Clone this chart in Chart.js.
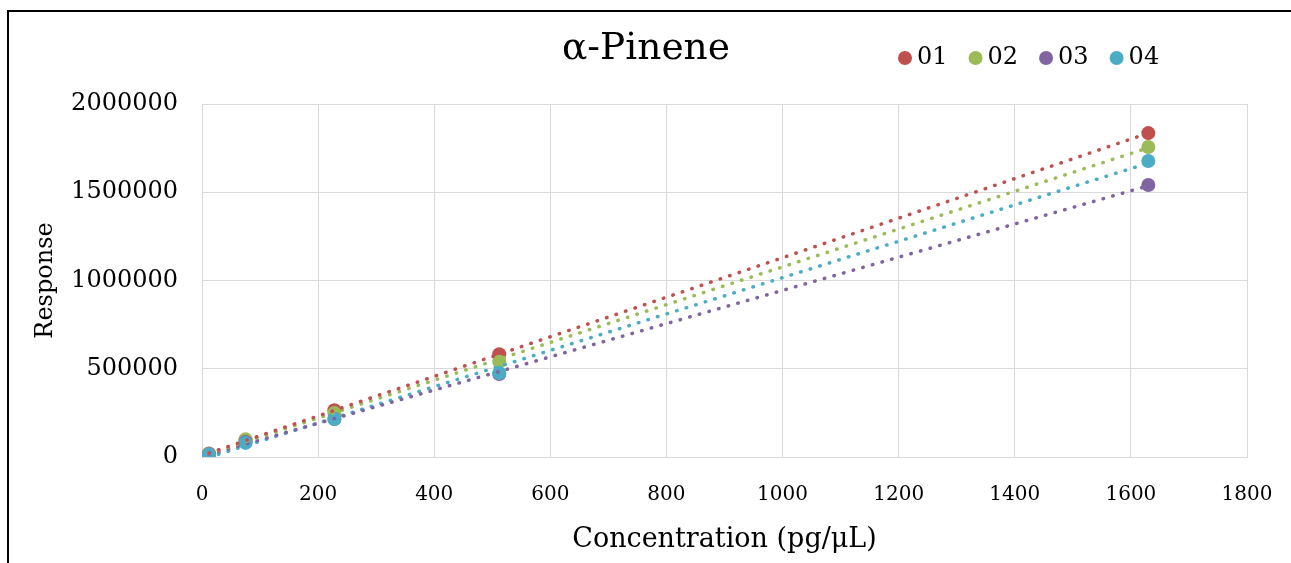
<!DOCTYPE html>
<html>
<head>
<meta charset="utf-8">
<script src="https://cdn.jsdelivr.net/npm/chart.js@4"></script>
<style>
    html, body { margin: 0; padding: 0; background: #fff; overflow: hidden; }
    #frame {
        position: absolute;
        left: 7px;
        top: 10px;
        width: 1284px;
        height: 553px;
        border-left: 2px solid #000;
        border-top: 2px solid #000;
    }
    #chart { display: block; }
</style>
</head>
<body>
<div id="frame">
    <canvas id="chart" width="1282" height="551"></canvas>
</div>
<script>
;(function (document, window) {
    'use strict';

    // concentrations (pg/uL) and responses per run
    var concentrations = [12, 75, 228, 512, 1630];
    var series01 = [20000, 95000, 265000, 582000, 1835000];
    var series02 = [18000, 100000, 250000, 540000, 1756000];
    var series03 = [15000, 85000, 215000, 470000, 1541000];
    var series04 = [14000, 80000, 215000, 476000, 1677000];

    var seriesNames = ['01', '02', '03', '04'];
    var seriesColors = ['#C0504D', '#9BBB59', '#8064A2', '#4BACC6'];

    var xTicks = [0, 200, 400, 600, 800, 1000, 1200, 1400, 1600, 1800];
    var yTicks = [0, 500000, 1000000, 1500000, 2000000];

    var chartTitle = 'α-Pinene';
    var xTitle = 'Concentration (pg/μL)';
    var yTitle = 'Response';

    var serif = "'DejaVu Serif', serif";

    /**
     * Least squares fit, returned as the two end points of the line.
     */
    function trend(xs, ys) {
        var n = xs.length, sx = 0, sy = 0, sxx = 0, sxy = 0;
        for (var i = 0; i < n; i++) {
            sx += xs[i];
            sy += ys[i];
            sxx += xs[i] * xs[i];
            sxy += xs[i] * ys[i];
        }
        var slope = (n * sxy - sx * sy) / (n * sxx - sx * sx);
        var icept = (sy - slope * sx) / n;
        var x0 = Math.min.apply(null, xs), x1 = Math.max.apply(null, xs);

        return [{x: x0, y: icept + slope * x0}, {x: x1, y: icept + slope * x1}];
    }

    var allSeries = [series01, series02, series03, series04];
    var datasets = [];

    allSeries.forEach(function (values, k) {
        datasets.push({
            label: seriesNames[k],
            type: 'scatter',
            data: concentrations.map(function (c, i) { return {x: c, y: values[i]}; }),
            backgroundColor: seriesColors[k],
            borderColor: seriesColors[k],
            pointRadius: 7,
            pointHoverRadius: 7,
            borderWidth: 0,
            order: 10 - k
        });
    });

    allSeries.forEach(function (values, k) {
        datasets.push({
            label: 'trend ' + seriesNames[k],
            type: 'line',
            data: trend(concentrations, values),
            borderColor: seriesColors[k],
            borderWidth: 3.5,
            borderDash: [0.5, 9.5],
            borderCapStyle: 'round',
            pointRadius: 0,
            fill: false,
            order: 0,
            isTrend: true
        });
    });

    // title and legend share one row above the plot
    var headerPlugin = {
        id: 'header',
        afterDraw: function (chart) {
            var ctx = chart.ctx;
            ctx.save();
            ctx.fillStyle = '#000';
            ctx.textBaseline = 'middle';
            ctx.textAlign = 'center';
            ctx.font = '37.5px ' + serif;
            ctx.fillText(chartTitle, 637, 37);

            ctx.font = '24px ' + serif;
            ctx.textAlign = 'left';
            var x = 889;
            chart.data.datasets.forEach(function (ds) {
                if (ds.isTrend) {
                    return;
                }
                ctx.fillStyle = ds.backgroundColor;
                ctx.beginPath();
                ctx.arc(x + 7, 46, 7, 0, Math.PI * 2);
                ctx.fill();
                ctx.fillStyle = '#000';
                ctx.fillText(ds.label, x + 19, 46);
                x += 19 + ctx.measureText(ds.label).width + 21;
            });
            ctx.restore();
        }
    };

    new Chart(document.getElementById('chart'), {
        type: 'scatter',
        data: {datasets: datasets},
        options: {
            responsive: false,
            animation: false,
            layout: {padding: {top: 92, right: 44, left: 0, bottom: 0}},
            plugins: {
                legend: {display: false},
                title: {display: false},
                tooltip: {enabled: false}
            },
            scales: {
                x: {
                    type: 'linear',
                    min: 0,
                    max: 1800,
                    afterBuildTicks: function (scale) {
                        scale.ticks = xTicks.map(function (v) { return {value: v}; });
                    },
                    afterFit: function (scale) {
                        scale.height = 106;
                        scale.paddingRight = 0;
                    },
                    grid: {color: '#D9D9D9', lineWidth: 1, drawTicks: false},
                    border: {color: '#D9D9D9'},
                    ticks: {
                        color: '#000',
                        padding: 26,
                        font: {family: serif, size: 20},
                        callback: function (v) { return String(v); }
                    },
                    title: {
                        display: true,
                        text: xTitle,
                        color: '#000',
                        font: {family: serif, size: 27},
                        padding: {top: 0, bottom: 7}
                    }
                },
                y: {
                    type: 'linear',
                    min: 0,
                    max: 2000000,
                    afterBuildTicks: function (scale) {
                        scale.ticks = yTicks.map(function (v) { return {value: v}; });
                    },
                    afterFit: function (scale) { scale.width = 193; },
                    grid: {color: '#D9D9D9', lineWidth: 1, drawTicks: false},
                    border: {color: '#D9D9D9'},
                    ticks: {
                        color: '#000',
                        padding: 24,
                        font: {family: serif, size: 24},
                        callback: function (v) { return String(v); }
                    },
                    title: {
                        display: true,
                        text: yTitle,
                        color: '#000',
                        font: {family: serif, size: 24},
                        padding: {top: 22, bottom: 0}
                    }
                }
            }
        },
        plugins: [headerPlugin]
    });

})(document, window);
</script>
</body>
</html>
